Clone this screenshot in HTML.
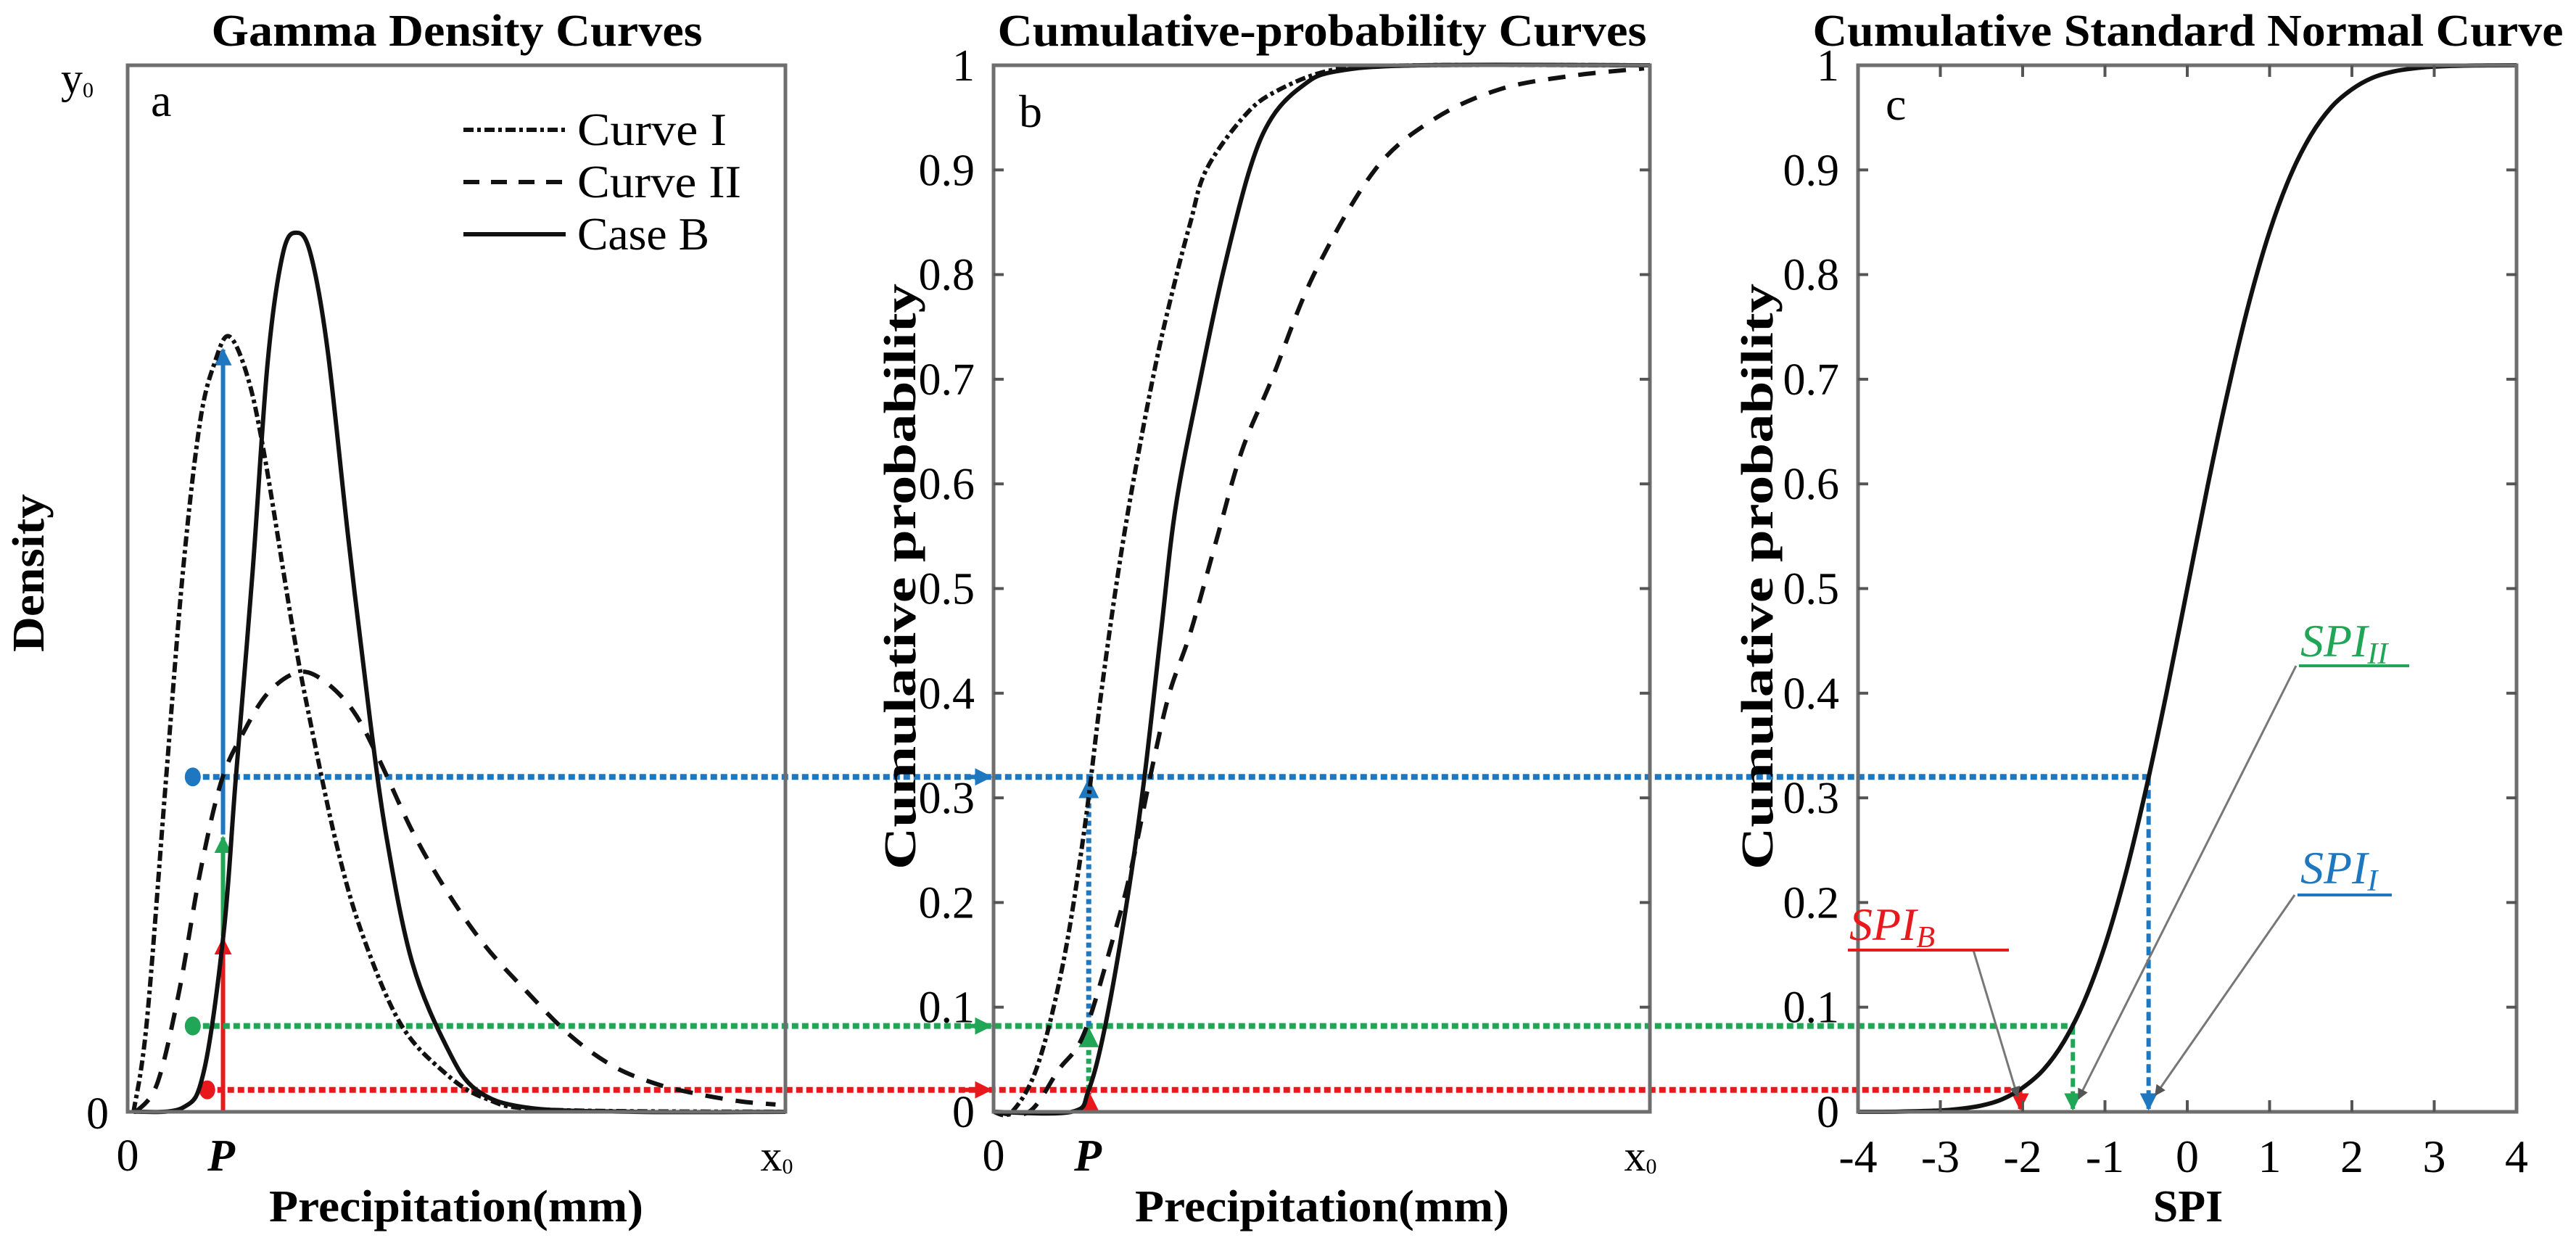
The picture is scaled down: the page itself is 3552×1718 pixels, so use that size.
<!DOCTYPE html>
<html><head><meta charset="utf-8"><style>
html,body{margin:0;padding:0;background:#fff;}
svg{display:block;font-family:"Liberation Serif",serif;}
</style></head><body>
<svg id="chart" width="3552" height="1718" viewBox="0 0 3552 1718" xmlns="http://www.w3.org/2000/svg">
<defs>
<marker id="arB" viewBox="0 0 10 10" refX="9" refY="5" markerWidth="4" markerHeight="4" orient="auto"><path d="M0,0L10,5L0,10z" fill="#1f77c0"/></marker>
<marker id="arG" viewBox="0 0 10 10" refX="9" refY="5" markerWidth="4" markerHeight="4" orient="auto"><path d="M0,0L10,5L0,10z" fill="#21a556"/></marker>
<marker id="arR" viewBox="0 0 10 10" refX="9" refY="5" markerWidth="4" markerHeight="4" orient="auto"><path d="M0,0L10,5L0,10z" fill="#e8191c"/></marker>
<marker id="arK" viewBox="0 0 10 10" refX="9" refY="5" markerWidth="5" markerHeight="5" orient="auto"><path d="M0,0L10,5L0,10z" fill="#555"/></marker>
</defs>
<g id="layer-guides"></g>
<g id="layer-curves"></g>
<g id="layer-axes"></g>

<text x="630" y="63" text-anchor="middle" font-size="62" font-weight="bold" textLength="677" lengthAdjust="spacingAndGlyphs">Gamma Density Curves</text>
<text x="1823" y="63" text-anchor="middle" font-size="62" font-weight="bold" textLength="895" lengthAdjust="spacingAndGlyphs">Cumulative-probability Curves</text>
<text x="3017" y="63" text-anchor="middle" font-size="62" font-weight="bold" textLength="1035" lengthAdjust="spacingAndGlyphs">Cumulative Standard Normal Curve</text>

<text x="208" y="160" font-size="64">a</text>
<text x="1405" y="175" font-size="64">b</text>
<text x="2600" y="165" font-size="64">c</text>

<text x="84" y="128" font-size="60">y<tspan font-size="30" dy="6">0</tspan></text>
<text x="150" y="1556" font-size="62" text-anchor="end">0</text>
<text x="176" y="1614" font-size="62" text-anchor="middle">0</text>
<text x="305" y="1614" font-size="62" text-anchor="middle" font-weight="bold" font-style="italic">P</text>
<text x="1071" y="1614" font-size="60" text-anchor="middle">x<tspan font-size="30" dy="4">0</tspan></text>
<text x="629" y="1684" font-size="62" font-weight="bold" text-anchor="middle" textLength="516" lengthAdjust="spacingAndGlyphs">Precipitation(mm)</text>
<text transform="translate(60,790) rotate(-90)" font-size="62" font-weight="bold" text-anchor="middle" textLength="218" lengthAdjust="spacingAndGlyphs">Density</text>

<g>
<line x1="639" y1="179" x2="780" y2="179" stroke="#111" stroke-width="6" stroke-dasharray="14 5 5 5"/>
<text x="796" y="200" font-size="64" textLength="206" lengthAdjust="spacingAndGlyphs">Curve I</text>
<line x1="639" y1="251" x2="780" y2="251" stroke="#111" stroke-width="6" stroke-dasharray="22 16"/>
<text x="796" y="272" font-size="64" textLength="226" lengthAdjust="spacingAndGlyphs">Curve II</text>
<line x1="639" y1="323" x2="780" y2="323" stroke="#111" stroke-width="6"/>
<text x="796" y="344" font-size="64" textLength="182" lengthAdjust="spacingAndGlyphs">Case B</text>
</g>

<text x="1370" y="1614" font-size="62" text-anchor="middle">0</text>
<text x="1500" y="1614" font-size="62" text-anchor="middle" font-weight="bold" font-style="italic">P</text>
<text x="2262" y="1614" font-size="60" text-anchor="middle">x<tspan font-size="30" dy="4">0</tspan></text>
<text x="1823" y="1684" font-size="62" font-weight="bold" text-anchor="middle" textLength="516" lengthAdjust="spacingAndGlyphs">Precipitation(mm)</text>
<text transform="translate(1262,795) rotate(-90)" font-size="62" font-weight="bold" text-anchor="middle" textLength="808" lengthAdjust="spacingAndGlyphs">Cumulative probability</text>

<text x="3017" y="1684" font-size="62" font-weight="bold" text-anchor="middle">SPI</text>
<text transform="translate(2444,795) rotate(-90)" font-size="62" font-weight="bold" text-anchor="middle" textLength="808" lengthAdjust="spacingAndGlyphs">Cumulative probability</text>

<g>
<line x1="2721" y1="1310" x2="2782" y2="1512" stroke="#777" stroke-width="3" marker-end="url(#arK)"/>
<line x1="3166" y1="918" x2="2866" y2="1515" stroke="#777" stroke-width="3" marker-end="url(#arK)"/>
<line x1="3164" y1="1234" x2="2972" y2="1510" stroke="#777" stroke-width="3" marker-end="url(#arK)"/>
<text x="3172" y="905" font-size="64" font-style="italic" fill="#21a556">SPI<tspan font-size="42" dy="10">II</tspan></text>
<line x1="3170" y1="918" x2="3322" y2="918" stroke="#21a556" stroke-width="4"/>
<text x="3172" y="1218" font-size="64" font-style="italic" fill="#1f77c0">SPI<tspan font-size="42" dy="10">I</tspan></text>
<line x1="3168" y1="1234" x2="3298" y2="1234" stroke="#1f77c0" stroke-width="4"/>
<text x="2550" y="1296" font-size="64" font-style="italic" fill="#e8191c">SPI<tspan font-size="42" dy="10">B</tspan></text>
<line x1="2548" y1="1310" x2="2770" y2="1310" stroke="#e8191c" stroke-width="4"/>
</g>
</svg>
<script>
const densCurveIX = [0.009,0.029,0.058,0.084,0.110,0.133,0.154,0.181,0.207,0.252,0.278,0.317,0.356,0.414,0.479,0.543,0.640,1.0];
const densCurveIY = [0,0.085,0.315,0.516,0.659,0.717,0.741,0.705,0.631,0.458,0.372,0.257,0.171,0.085,0.039,0.013,0.002,0];
const densCurveIIX = [0.013,0.045,0.078,0.110,0.142,0.174,0.213,0.259,0.298,0.343,0.382,0.433,0.485,0.543,0.608,0.673,0.737,0.802,0.867,0.932,0.985];
const densCurveIIY = [0,0.027,0.114,0.228,0.315,0.36,0.40,0.42,0.412,0.383,0.337,0.268,0.211,0.159,0.114,0.073,0.044,0.027,0.017,0.010,0.007];
const densCaseBX = [0.009,0.084,0.116,0.146,0.164,0.190,0.213,0.236,0.257,0.278,0.304,0.336,0.369,0.395,0.433,0.485,0.530,0.608,0.77,1.0];
const densCaseBY = [0,0.004,0.039,0.171,0.315,0.516,0.717,0.82,0.84,0.82,0.728,0.545,0.372,0.257,0.142,0.062,0.021,0.004,0,0];
const cdfCurveIX = [0,0.028,0.067,0.106,0.138,0.164,0.19,0.216,0.248,0.275,0.30,0.324,0.38,0.43,0.52,0.65,1.0];
const cdfCurveIY = [0,0,0.044,0.142,0.268,0.40,0.516,0.613,0.717,0.79,0.85,0.90,0.95,0.975,0.996,1,1];
const cdfCurveIIX = [0,0.054,0.099,0.138,0.184,0.21,0.242,0.268,0.30,0.339,0.378,0.424,0.488,0.581,0.67,0.771,0.882,0.991];
const cdfCurveIIY = [0,0,0.04,0.075,0.17,0.233,0.33,0.40,0.458,0.545,0.631,0.70,0.80,0.90,0.948,0.977,0.99,0.997];
const cdfCaseBX = [0,0.119,0.145,0.171,0.203,0.229,0.255,0.278,0.315,0.349,0.39,0.424,0.47,0.52,0.65,1.0];
const cdfCaseBY = [0,0,0.021,0.085,0.20,0.315,0.458,0.58,0.70,0.80,0.90,0.95,0.98,0.994,1,1];
const normSpi = [-4,-3.5,-3,-2.75,-2.5,-2.25,-2,-1.75,-1.5,-1.25,-1,-0.75,-0.5,-0.25,0,0.25,0.5,0.75,1,1.25,1.5,1.75,2,2.25,2.5,2.75,3,3.5,4];
const normProb = [0,0.0002,0.0013,0.003,0.006,0.012,0.023,0.040,0.067,0.106,0.159,0.227,0.309,0.401,0.5,0.599,0.691,0.773,0.841,0.894,0.933,0.960,0.977,0.988,0.994,0.997,0.9987,0.9998,1];
const pValue = 0.145;
const cumProbs = [0.021, 0.082, 0.32];
const spiValues = [-2.03, -1.39, -0.47];
const densAtP = [0.168, 0.265, 0.731];
const probTicks = [0,0.1,0.2,0.3,0.4,0.5,0.6,0.7,0.8,0.9,1];
const probTickLabels = ["0","0.1","0.2","0.3","0.4","0.5","0.6","0.7","0.8","0.9","1"];
const spiTicks = [-4,-3,-2,-1,0,1,2,3,4];
const spiTickLabels = ["-4","-3","-2","-1","0","1","2","3","4"];

const TOP = 90, BOT = 1533;
const yS = v => BOT - v * (BOT - TOP);
const xA = v => 176 + v * (1083 - 176);
const xB = v => 1370 + v * (2275 - 1370);
const xC = v => 2562 + (v + 4) / 8 * (3470 - 2562);

const NS = "http://www.w3.org/2000/svg";
function mk(tag, attrs, parent) {
  const e = document.createElementNS(NS, tag);
  for (const k in attrs) e.setAttribute(k, attrs[k]);
  parent.appendChild(e);
  return e;
}
function smooth(pts) {
  let d = "M" + pts[0][0].toFixed(1) + "," + pts[0][1].toFixed(1);
  for (let i = 0; i < pts.length - 1; i++) {
    const p0 = pts[Math.max(0, i - 1)], p1 = pts[i], p2 = pts[i + 1], p3 = pts[Math.min(pts.length - 1, i + 2)];
    const c1x = p1[0] + (p2[0] - p0[0]) / 6, c1y = p1[1] + (p2[1] - p0[1]) / 6;
    const c2x = p2[0] - (p3[0] - p1[0]) / 6, c2y = p2[1] - (p3[1] - p1[1]) / 6;
    d += "C" + c1x.toFixed(1) + "," + c1y.toFixed(1) + " " + c2x.toFixed(1) + "," + c2y.toFixed(1) + " " + p2[0].toFixed(1) + "," + p2[1].toFixed(1);
  }
  return d;
}
const gG = document.getElementById("layer-guides");
const gC = document.getElementById("layer-curves");
const gX = document.getElementById("layer-axes");
const COLS = ["#e8191c", "#21a556", "#1f77c0"];
const MARK = ["url(#arR)", "url(#arG)", "url(#arB)"];
const NAMES = ["case-b", "curve-ii", "curve-i"];

const dotX = [0.121, 0.099, 0.099];
for (let i = 0; i < 3; i++) {
  const y = yS(cumProbs[i]);
  const h = mk("line", {x1: xA(dotX[i]), y1: y, x2: xC(spiValues[i]), y2: y, stroke: COLS[i], "stroke-width": 8, "stroke-dasharray": "9 5"}, gG);
  
  
  const ar = mk("line", {x1: 1330, y1: y, x2: 1366, y2: y, stroke: COLS[i], "stroke-width": 6, "marker-end": MARK[i]}, gG);
  
  
  const dot = mk("ellipse", {cx: xA(dotX[i]), cy: y, rx: 11, ry: 13, fill: COLS[i]}, gG);
  
  
  const v = mk("line", {x1: xC(spiValues[i]), y1: y, x2: xC(spiValues[i]), y2: BOT - 4, stroke: COLS[i], "stroke-width": 6, "stroke-dasharray": "12 6", "marker-end": MARK[i]}, gG);
  
  
  const lo = i === 0 ? 0 : cumProbs[i - 1];
  const vb = mk("line", {x1: xB(pValue), y1: yS(lo), x2: xB(pValue), y2: yS(cumProbs[i]) + 4, stroke: COLS[i], "stroke-width": 7, "stroke-dasharray": "7 5", "marker-end": MARK[i]}, gG);
  
  
  const lo2 = i === 0 ? 0 : densAtP[i - 1];
  const va = mk("line", {x1: xA(pValue), y1: yS(lo2), x2: xA(pValue), y2: yS(densAtP[i]) + 4, stroke: COLS[i], "stroke-width": 6, "marker-end": MARK[i]}, gG);
  
  
}

function curve(xs, ys, xf, name, dash) {
  const pts = xs.map((x, i) => [xf(x), yS(ys[i])]);
  const p = mk("path", {d: smooth(pts), fill: "none", stroke: "#111", "stroke-width": 6, "stroke-linejoin": "round"}, gC);
  if (dash) p.setAttribute("stroke-dasharray", dash);
  
  
}
const DASHDOT = "14 5 5 5", DASHED = "24 18";
curve(densCurveIX, densCurveIY, xA, 'density-curve-i', DASHDOT);
curve(densCurveIIX, densCurveIIY, xA, 'density-curve-ii', DASHED);
curve(densCaseBX, densCaseBY, xA, 'density-case-b', null);
curve(cdfCurveIX, cdfCurveIY, xB, 'cdf-curve-i', DASHDOT);
curve(cdfCurveIIX, cdfCurveIIY, xB, 'cdf-curve-ii', DASHED);
curve(cdfCaseBX, cdfCaseBY, xB, 'cdf-case-b', null);
curve(normSpi, normProb, xC, 'normal-cdf-curve', null);

const boxes = [[176, 1083, 'panel-a-frame'], [1370, 2275, 'panel-b-frame'], [2562, 3470, 'panel-c-frame']];
boxes.forEach(b => {
  const r = mk("rect", {x: b[0], y: TOP, width: b[1] - b[0], height: BOT - TOP, fill: "none", stroke: "#6e6e6e", "stroke-width": 5}, gX);
  
  
});
[[1370, 2275, 'b'], [2562, 3470, 'c']].forEach(b => {
  probTicks.forEach((t, i) => {
    const y = yS(t);
    if (i > 0 && i < probTicks.length - 1) {
      const t1 = mk("line", {x1: b[0], y1: y, x2: b[0] + 14, y2: y, stroke: "#555", "stroke-width": 4}, gX);
      
      
      const t2 = mk("line", {x1: b[1], y1: y, x2: b[1] - 14, y2: y, stroke: "#555", "stroke-width": 4}, gX);
      
      
    }
    const lb = mk("text", {x: b[0] - 26, y: y + 21, "font-size": 62, "text-anchor": "end"}, gX);
    lb.textContent = probTickLabels[i];
    
    
  });
});
spiTicks.forEach((t, i) => {
  const x = xC(t);
  if (i > 0 && i < spiTicks.length - 1) {
    const t1 = mk("line", {x1: x, y1: BOT, x2: x, y2: BOT - 16, stroke: "#555", "stroke-width": 4}, gX);
    
    
    const t2 = mk("line", {x1: x, y1: TOP, x2: x, y2: TOP + 16, stroke: "#555", "stroke-width": 4}, gX);
    
    
  }
  const lb = mk("text", {x: x, y: 1616, "font-size": 64, "text-anchor": "middle"}, gX);
  lb.textContent = spiTickLabels[i];
  
  
});
</script>
</body></html>
